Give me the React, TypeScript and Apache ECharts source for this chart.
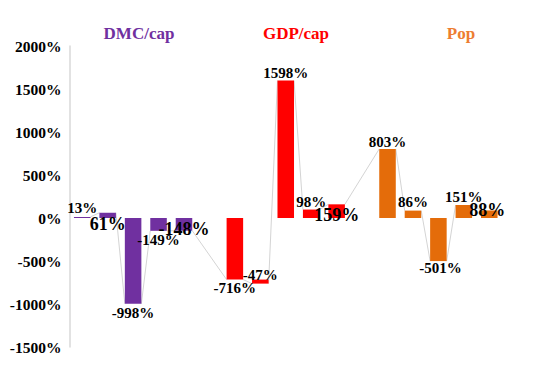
import React, { useEffect, useRef } from "react";
import * as echarts from "echarts";

// ---- data ----
const groupNames = ["DMC/cap", "GDP/cap", "Pop"];
const dmcValues = [13, 61, -998, -149, -148];
const gdpValues = [-716, -47, 1598, 98, 159];
const popValues = [803, 86, -501, 151, 88];
// value each bar starts from (the -47% bar hangs from the end of the -716% bar)
const dmcStarts = [0, 0, 0, 0, 0];
const gdpStarts = [0, -716, 0, 0, 0];
const popStarts = [0, 0, 0, 0, 0];
const yMin = -1500;
const yMax = 2000;
const yStep = 500;

// ---- styles ----
const barColors = ["#7030A0", "#FF0000", "#E46C0A"];
const titleColors = ["#7030A0", "#FF0000", "#ED7D31"];
const titleX = [139, 296, 461];
const titleY = 33;
// label placement relative to the bar end (pixels) and font size
const labelSizes = [15, 18, 15, 15, 18, 15, 15, 15, 15, 18, 15, 15, 15, 15, 18];
const labelDx = [0, 0, 0, 0, 0, 0, 0, 0, 0, 0, 0, 0, 2, 0, -2];
const labelDy = [-9, 11, 9.5, 9.5, -2, 8.5, -9, -8, -8, 10.5, -7, -8.5, 7, -8, 0];
const FONT = "'Liberation Serif', 'Times New Roman', serif";
const BAR_RATIO = 0.65;

const groupValues = [dmcValues, gdpValues, popValues];
const groupStarts = [dmcStarts, gdpStarts, popStarts];
const slotsPerGroup = 6; // 5 bars + 1 empty slot

const categories: string[] = [];
groupNames.forEach((g, gi) => {
  groupValues[gi].forEach((_, k) => categories.push(`${g} ${k + 1}`));
  if (gi < groupNames.length - 1) categories.push("");
});

type BarItem = [number, number, number, number, number];
const barData: BarItem[] = [];
groupValues.forEach((vals, gi) => {
  vals.forEach((v, k) => {
    const slot = gi * slotsPerGroup + k;
    const start = groupStarts[gi][k];
    barData.push([slot, start, start + v, gi, barData.length]);
  });
});
const barLabels = groupValues.flat().map((v) => `${v}%`);

const connectorData = barData.slice(0, -1).map((b, i) => {
  const n = barData[i + 1];
  return [b[0], b[2], n[0], n[2]];
});

export default function App() {
  const ref = useRef<HTMLDivElement>(null);
  useEffect(() => {
    if (!ref.current) return;
    const chart = echarts.init(ref.current, null, { renderer: "svg" });
    chart.setOption({
      animation: false,
      backgroundColor: "#ffffff",
      grid: { left: 69.5, right: 41, top: 46, bottom: 20, containLabel: false },
      xAxis: {
        type: "category",
        data: categories,
        show: false,
        boundaryGap: true,
      },
      yAxis: {
        type: "value",
        min: yMin,
        max: yMax,
        interval: yStep,
        axisLine: { show: true, lineStyle: { color: "#d9d9d9", width: 1.5 } },
        axisTick: { show: false },
        splitLine: { show: false },
        axisLabel: {
          formatter: (v: number) => `${v}%`,
          color: "#000",
          fontFamily: FONT,
          fontWeight: "bold",
          fontSize: 15.5,
          margin: 8,
        },
      },
      graphic: groupNames.map((g, i) => ({
        type: "text",
        x: titleX[i],
        y: titleY,
        style: {
          text: g,
          fill: titleColors[i],
          font: `bold 17px ${FONT}`,
          textAlign: "center",
          textVerticalAlign: "middle",
        },
      })),
      series: [
        {
          type: "custom",
          name: "connectors",
          z: 1,
          encode: { x: [0, 2], y: [1, 3] },
          data: connectorData,
          renderItem: (params: any, api: any) => {
            const a = api.coord([api.value(0), api.value(1)]);
            const b = api.coord([api.value(2), api.value(3)]);
            const half = (api.size([1, 0])[0] * BAR_RATIO) / 2;
            return {
              type: "line",
              shape: { x1: a[0] + half, y1: a[1], x2: b[0] - half, y2: b[1] },
              style: { stroke: "#d4d4d4", lineWidth: 1 },
            };
          },
        },
        {
          type: "custom",
          name: "bars",
          z: 2,
          encode: { x: 0, y: [1, 2] },
          data: barData,
          renderItem: (params: any, api: any) => {
            const slot = api.value(0);
            const p0 = api.coord([slot, api.value(1)]);
            const p1 = api.coord([slot, api.value(2)]);
            const w = api.size([1, 0])[0] * BAR_RATIO;
            const y = Math.min(p0[1], p1[1]);
            const h = Math.max(Math.abs(p1[1] - p0[1]), 1);
            return {
              type: "rect",
              shape: { x: p0[0] - w / 2, y, width: w, height: h },
              style: { fill: barColors[api.value(3)] },
            };
          },
        },
        {
          type: "custom",
          name: "labels",
          z: 3,
          encode: { x: 0, y: [1, 2] },
          data: barData,
          renderItem: (params: any, api: any) => {
            const idx = api.value(4);
            const p1 = api.coord([api.value(0), api.value(2)]);
            return {
              type: "text",
              x: p1[0] + labelDx[idx],
              y: p1[1] + labelDy[idx],
              style: {
                text: barLabels[idx],
                fill: "#000",
                font: `bold ${labelSizes[idx]}px ${FONT}`,
                textAlign: "center",
                textVerticalAlign: "middle",
              },
            };
          },
        },
      ],
    });
    return () => chart.dispose();
  }, []);
  return (
    <div
      ref={ref}
      style={{ position: "fixed", left: 0, top: 0, width: 543, height: 367, background: "#fff" }}
    />
  );
}
